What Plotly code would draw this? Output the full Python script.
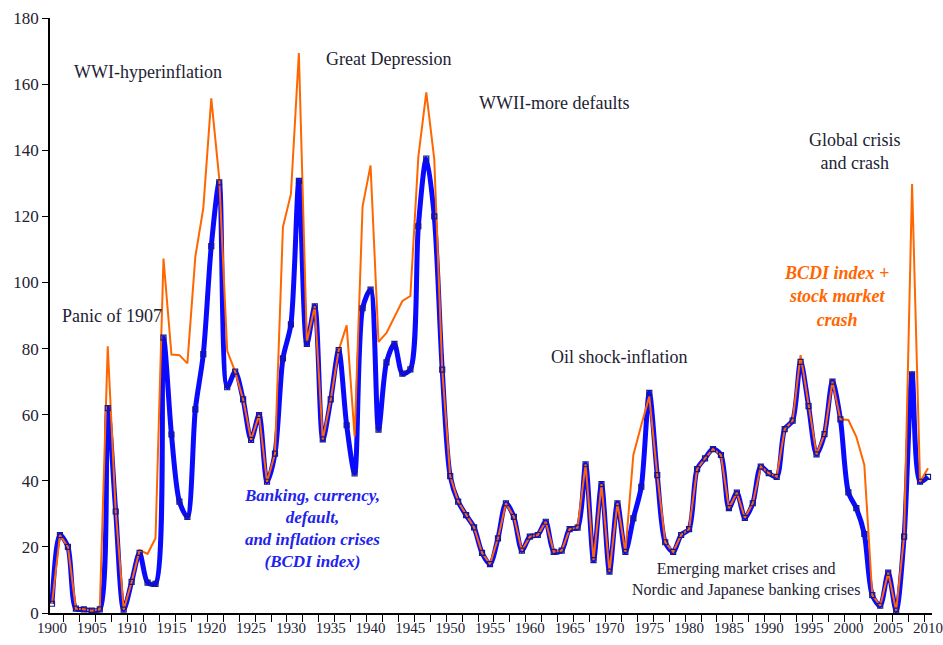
import plotly.graph_objects as go

years = list(range(1900, 2011))

bcdi = [
    2.8, 23.6, 20.0, 1.3, 1.1, 0.7, 1.1, 62.0, 30.7, 1.0,
    9.4, 18.2, 9.2, 8.8, 83.3, 54.0, 33.7, 29.1, 61.6, 78.3,
    111.0, 130.3, 68.3, 73.0, 64.6, 52.4, 59.9, 39.7, 48.2, 77.0,
    87.3, 130.7, 81.4, 92.8, 52.5, 64.6, 79.5, 56.8, 42.2, 92.2,
    97.8, 55.5, 75.8, 81.4, 72.4, 73.7, 117.0, 137.5, 120.0, 73.6,
    41.4, 33.7, 29.6, 25.9, 18.2, 14.8, 22.6, 33.2, 29.1, 18.9,
    23.1, 23.6, 27.6, 18.5, 18.9, 25.4, 25.8, 45.0, 16.0, 39.0,
    12.5, 33.2, 18.5, 28.6, 38.2, 66.6, 41.7, 21.4, 18.5, 23.6,
    25.4, 43.5, 46.8, 49.6, 47.8, 31.7, 36.4, 28.8, 33.2, 44.3,
    42.3, 41.2, 55.6, 58.2, 76.0, 62.6, 48.0, 54.1, 70.0, 58.6,
    36.5, 31.7, 23.9, 5.4, 2.2, 12.2, 0.7, 23.1, 72.2, 39.7,
    41.2,
]

bcdi_crash = [
    2.8, 23.6, 20.0, 1.3, 1.1, 0.7, 1.1, 80.7, 30.7, 1.0,
    9.4, 19.0, 17.9, 22.6, 107.2, 78.2, 78.0, 75.5, 107.8, 122.5,
    155.7, 131.5, 79.3, 73.0, 64.6, 52.4, 59.9, 39.7, 48.2, 116.8,
    126.7, 169.4, 82.0, 92.8, 52.5, 64.6, 79.5, 87.0, 53.4, 123.0,
    135.4, 82.0, 84.7, 89.4, 94.4, 95.9, 138.0, 157.5, 137.3, 73.6,
    41.4, 33.7, 29.6, 25.9, 18.2, 14.8, 22.6, 33.2, 29.1, 18.9,
    23.1, 23.6, 27.6, 18.5, 18.9, 25.4, 25.8, 45.0, 16.0, 39.0,
    12.5, 33.2, 18.5, 47.8, 56.9, 65.5, 41.7, 21.4, 18.5, 23.6,
    25.4, 43.5, 46.8, 49.6, 47.8, 31.7, 36.4, 28.8, 33.2, 44.3,
    42.3, 41.2, 55.6, 58.2, 78.0, 62.6, 48.0, 54.1, 70.0, 58.6,
    58.4, 53.3, 44.8, 5.4, 2.2, 12.2, 0.7, 23.1, 129.8, 39.7,
    43.8,
]

x_tick_vals = [1900, 1905, 1910, 1915, 1920, 1925, 1930, 1935, 1940, 1945, 1950, 1955,
               1960, 1965, 1970, 1975, 1980, 1985, 1990, 1995, 2000, 2005, 2010]
x_tick_text = ["1900", "1905", "1910", "1915", "1920", "1925", "1930", "1935", "1940",
               "1945", "1950", "1955", "1960", "1965", "1970", "1975", "1980", "1985",
               "1990", "1995", "2000", "2005", "2010"]
y_tick_vals = [0, 20, 40, 60, 80, 100, 120, 140, 160, 180]

SERIF = "Liberation Serif, Times New Roman, serif"

fig = go.Figure()
fig.add_trace(go.Scatter(
    x=years, y=bcdi, mode="lines",
    line=dict(color="#0a0aff", width=5, shape="spline", smoothing=0.8),
    hoverinfo="skip",
))
fig.add_trace(go.Scatter(
    x=years, y=bcdi_crash, mode="lines",
    line=dict(color="#ff6600", width=2),
))
fig.add_trace(go.Scatter(
    x=years, y=bcdi, mode="markers",
    marker=dict(symbol="square-open", size=5, color="#1a1a80", line=dict(width=1.2, color="#1a1a80")),
))

def ann(text, x, y, size=18, color="#222233"):
    fig.add_annotation(x=x, y=y, xref="x", yref="y", text=text, showarrow=False,
                       font=dict(family=SERIF, size=size, color=color), align="center")

ann("WWI-hyperinflation", 1912.1, 163.6)
ann("Panic of 1907", 1907.55, 89.8)
ann("Great Depression", 1942.2, 167.6)
ann("WWII-more defaults", 1963.05, 154.3)
ann("Oil shock-inflation", 1971.2, 77.4)
ann("Global crisis<br>and crash", 2000.8, 139.7)
ann("<b><i>BCDI index +<br>stock market<br>crash</i></b>", 1998.5, 95.6, size=18, color="#ff6600")
ann("<b><i>Banking, currency,<br>default,<br>and inflation crises<br>(BCDI index)</i></b>",
    1932.7, 25.7, size=17, color="#2222ee")
ann("Emerging market crises and<br>Nordic and Japanese banking crises", 1987.1, 10.0, size=16)

fig.update_layout(
    width=943, height=645,
    margin=dict(l=50, r=11, t=18, b=32, autoexpand=False),
    paper_bgcolor="white", plot_bgcolor="white",
    showlegend=False,
    font=dict(family=SERIF, color="#222233"),
)
fig.update_xaxes(
    range=[1899.75, 2010.5], showgrid=False, zeroline=False, automargin=False,
    showline=True, linecolor="black", linewidth=1.5,
    tickmode="array", tickvals=x_tick_vals, ticktext=x_tick_text, ticks="",
    ticklabeloverflow="allow",
    tickfont=dict(family=SERIF, size=15, color="#222233"),
    minor=dict(tick0=1899.5, dtick=2, ticks="outside", ticklen=7, tickcolor="black", tickwidth=1.3, showgrid=False),
)
fig.update_yaxes(
    range=[0, 180], showgrid=False, zeroline=False, automargin=False,
    showline=True, linecolor="black", linewidth=1.5,
    tickmode="array", tickvals=y_tick_vals, ticks="outside", ticklen=6, tickcolor="black",
    tickfont=dict(family=SERIF, size=17, color="#222233"),
)

fig.write_html("out.html", config={"displayModeBar": False},
               post_script="document.body.style.margin='0';document.body.style.overflow='hidden';")
